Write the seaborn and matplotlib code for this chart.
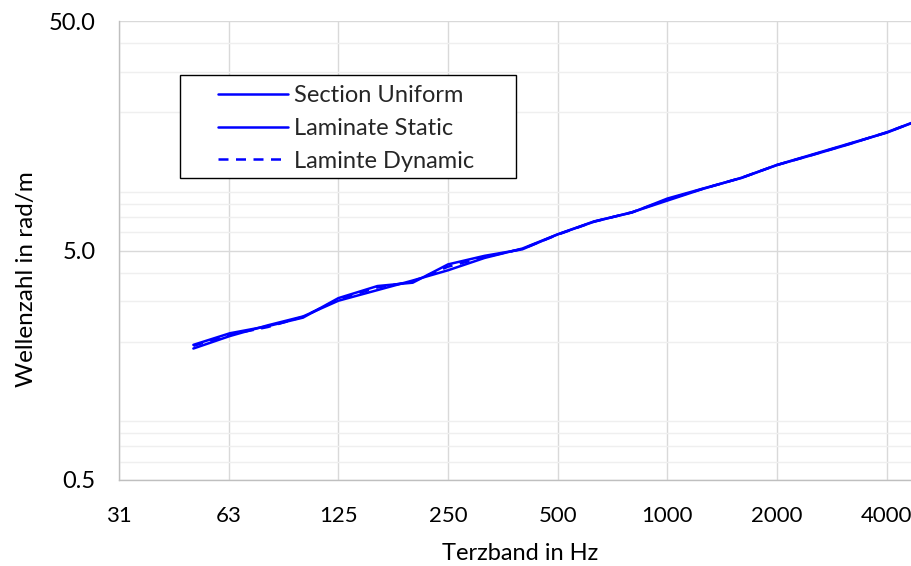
import matplotlib
matplotlib.use("Agg")
import matplotlib.pyplot as plt
import matplotlib.ticker as mticker
from matplotlib.patches import Rectangle
import numpy as np
import pandas as pd
import seaborn as sns

# Third-octave band centre frequencies (Hz)
freq = [50, 63, 80, 100, 125, 160, 200, 250, 315, 400, 500, 630, 800,
        1000, 1250, 1600, 2000, 2500, 3150, 4000, 5000]

# Wavenumbers in rad/m
section_uniform = [1.87, 2.12, 2.36, 2.58, 3.02, 3.36, 3.70, 4.10, 4.64, 5.10,
                   5.88, 6.68, 7.34, 8.25, 9.27, 10.38, 11.79, 13.03, 14.51,
                   16.37, 18.7]
laminate_static = [1.94, 2.18, 2.34, 2.55, 3.10, 3.50, 3.62, 4.35, 4.74, 5.06,
                   5.88, 6.70, 7.32, 8.42, 9.30, 10.36, 11.80, 13.10, 14.60,
                   16.30, 18.7]
laminate_dynamic = [1.92, 2.15, 2.32, 2.57, 3.06, 3.45, 3.66, 4.25, 4.68, 5.08,
                    5.86, 6.68, 7.34, 8.34, 9.28, 10.38, 11.79, 13.05, 14.55,
                    16.35, 18.7]

series_names = ["Section Uniform", "Laminate Static", "Laminte Dynamic"]

xtick_values = [31.25, 62.5, 125, 250, 500, 1000, 2000, 4000]
xtick_labels = ["31", "63", "125", "250", "500", "1000", "2000", "4000"]
ytick_values = [0.5, 5.0, 50.0]
ytick_labels = ["0.5", "5.0", "50.0"]

df = pd.DataFrame({
    "f": freq * 3,
    "k": section_uniform + laminate_static + laminate_dynamic,
    "series": sum([[n] * len(freq) for n in series_names], []),
})

sns.set_style("white")
plt.rcParams["font.family"] = ["Lato", "DejaVu Sans"]

W, H = 912, 566
fig = plt.figure(figsize=(W / 100, H / 100), dpi=100)
left, right, top, bottom = 119, 922, 21, 480
ax = fig.add_axes([left / W, 1 - bottom / H, (right - left) / W, (bottom - top) / H])

styles = {"Section Uniform": "-", "Laminate Static": "-", "Laminte Dynamic": (0, (4, 3))}
for name in series_names:
    sub = df[df["series"] == name]
    sns.lineplot(data=sub, x="f", y="k", ax=ax, color="#0000ff", lw=1.8,
                 linestyle=styles[name], label=name, clip_on=True)

ax.set_xscale("log", base=2)
ax.set_yscale("log")
ax.set_xlim(31.25, 5000)
ax.set_ylim(0.5, 50)

ax.xaxis.set_major_locator(mticker.FixedLocator(xtick_values))
ax.xaxis.set_major_formatter(mticker.FixedFormatter(xtick_labels))
ax.xaxis.set_minor_locator(mticker.NullLocator())
ax.yaxis.set_major_locator(mticker.FixedLocator(ytick_values))
ax.yaxis.set_major_formatter(mticker.FixedFormatter(ytick_labels))
ax.yaxis.set_minor_locator(mticker.LogLocator(base=10, subs=np.arange(2, 10)))
ax.yaxis.set_minor_formatter(mticker.NullFormatter())

ax.grid(True, which="major", axis="both", color="#d9d9d9", lw=1.0)
ax.grid(True, which="minor", axis="y", color="#efefef", lw=1.0)
ax.set_axisbelow(True)

for s in ["top", "right"]:
    ax.spines[s].set_visible(False)
for s in ["left", "bottom"]:
    ax.spines[s].set_color("#bfbfbf")
    ax.spines[s].set_linewidth(1.0)

ax.tick_params(axis="both", which="major", direction="out", length=5,
               color="#bfbfbf", width=1.0, labelcolor="#000000")
ax.tick_params(axis="y", which="minor", length=0)
ax.tick_params(axis="y", pad=12, labelsize=17)
ax.tick_params(axis="x", pad=14, labelsize=16)

ax.set_xlabel("Terzband in Hz", fontsize=17, color="#000000")
ax.set_ylabel("Wellenzahl in rad/m", fontsize=17.5, color="#000000")
ax.xaxis.set_label_coords((520 - left) / (right - left), -(553 - bottom) / (bottom - top))
ax.yaxis.set_label_coords((27 - left) / (right - left), (bottom - 279) / (bottom - top))
ax.xaxis.label.set_va("center")
ax.yaxis.label.set_va("center")

# Legend frame drawn as its own rectangle, entries placed inside it
ax.add_patch(Rectangle((180 / W, 1 - 178 / H), (516 - 180) / W, (178 - 75) / H,
                       transform=fig.transFigure, facecolor="white",
                       edgecolor="black", lw=1.0, zorder=4, clip_on=False))
leg = ax.legend(loc="upper left", bbox_to_anchor=(218 / W, 1 - 85 / H),
                bbox_transform=fig.transFigure, fontsize=17, frameon=False,
                handlelength=2.95, handletextpad=0.25, borderpad=0.0,
                labelspacing=0.5, borderaxespad=0.0)
leg.set_zorder(5)
for line in leg.get_lines():
    line.set_linewidth(1.8)

fig.savefig("out.png", dpi=100)
